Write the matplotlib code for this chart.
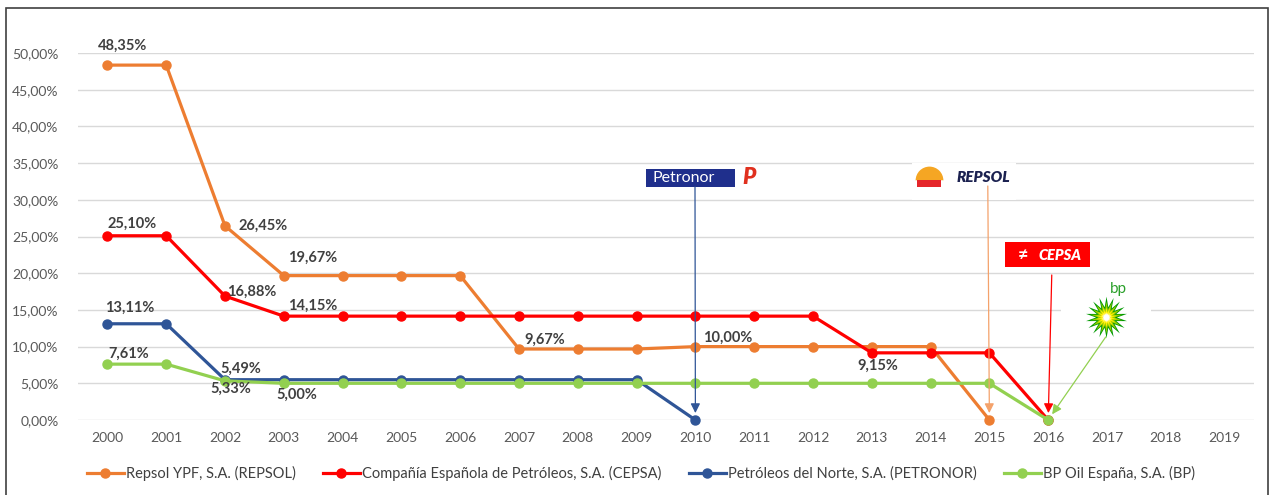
import matplotlib.pyplot as plt
import matplotlib.patches as mpatches
import numpy as np

# data
years = list(range(2000, 2020))
repsol = [48.35, 48.35, 26.45, 19.67, 19.67, 19.67, 19.67, 9.67, 9.67, 9.67,
          10.00, 10.00, 10.00, 10.00, 10.00, 0.0]
cepsa = [25.10, 25.10, 16.88, 14.15, 14.15, 14.15, 14.15, 14.15, 14.15, 14.15,
         14.15, 14.15, 14.15, 9.15, 9.15, 9.15, 0.0]
petronor = [13.11, 13.11, 5.49, 5.49, 5.49, 5.49, 5.49, 5.49, 5.49, 5.49, 0.0]
bp = [7.61, 7.61, 5.33, 5.00, 5.00, 5.00, 5.00, 5.00, 5.00, 5.00,
      5.00, 5.00, 5.00, 5.00, 5.00, 5.00, 0.0]

names = ['Repsol YPF, S.A. (REPSOL)',
         'Compañía Española de Petróleos, S.A. (CEPSA)',
         'Petróleos del Norte, S.A. (PETRONOR)',
         'BP Oil España, S.A. (BP)']
colors = ['#ED7D31', '#FF0000', '#2F5597', '#92D050']
series = [repsol, cepsa, petronor, bp]

# (series index, year index, label, dx px, dy px)
labels = [(0, 0, '48,35%', 15, 19), (1, 0, '25,10%', 25, 12),
          (0, 2, '26,45%', 38, 0), (0, 3, '19,67%', 29, 18),
          (1, 2, '16,88%', 27, 4), (1, 3, '14,15%', 29, 10),
          (2, 0, '13,11%', 22, 16), (3, 0, '7,61%', 21, 10),
          (2, 2, '5,49%', 16, 11), (3, 2, '5,33%', 6, -8),
          (3, 3, '5,00%', 13, -11), (0, 7, '9,67%', 26, 9),
          (0, 10, '10,00%', 32, 9), (1, 13, '9,15%', 6, -13)]

plt.rcParams['font.family'] = ['Lato', 'DejaVu Sans']

fig = plt.figure(figsize=(12.74, 4.95), dpi=100)
ax = fig.add_axes([78 / 1274, 75 / 495, 1176 / 1274, 367 / 495])

# outer border
fig.patches.append(mpatches.Rectangle((6 / 1274, -0.05), 1262 / 1274, 1 - 8 / 495 + 0.05,
                                      transform=fig.transFigure, fill=False,
                                      edgecolor='#404040', lw=1.2))

for vals, c, n in zip(series, colors, names):
    ax.plot(years[:len(vals)], vals, color=c, lw=2.3, marker='o', ms=6.5,
            label=n, clip_on=False, zorder=3)

for si, yi, txt, dx, dy in labels:
    ax.annotate(txt, (years[yi], series[si][yi]), xytext=(dx, dy),
                textcoords='offset pixels', ha='center', va='center',
                fontsize=10.5, fontweight='bold', color='#404040', zorder=5)

ax.set_xlim(1999.5, 2019.5)
ax.set_ylim(0, 50)
ax.set_xticks(years)
ax.set_yticks(np.arange(0, 51, 5))
ax.set_yticklabels([f'{v:.2f}%'.replace('.', ',') for v in np.arange(0, 51, 5)])
ax.grid(axis='y', color='#D9D9D9', lw=1)
ax.set_axisbelow(True)
for s in ax.spines.values():
    s.set_visible(False)
ax.tick_params(length=0, labelsize=10, labelcolor='#595959')
ax.tick_params(axis='y', pad=14)
ax.tick_params(axis='x', pad=9)

# logos drawn as simple shapes / text
def yr(px):
    return 2000 + (px - 107) / 58.84

def pc(py):
    return (420 - py) / 7.34

# Petronor
ax.add_patch(mpatches.Rectangle((yr(646), pc(187)), yr(735) - yr(646), pc(169) - pc(187),
                                facecolor='#1F2F8C', edgecolor='none', zorder=6, clip_on=False))
ax.text(yr(684), pc(178), 'Petronor', color='white', fontsize=11.5, ha='center',
        va='center', zorder=7)
ax.text(yr(749), pc(178), 'P', color='#E0301E', fontsize=16, fontweight='heavy',
        style='italic', ha='center', va='center', zorder=7)

# Repsol
ax.add_patch(mpatches.Rectangle((yr(912), pc(200)), yr(1016) - yr(912), pc(163) - pc(200),
                                facecolor='white', edgecolor='none', zorder=2, clip_on=False))
ax.plot(yr(929), pc(180), marker='o', ms=20, fillstyle='top', color='#F5A623',
        markerfacecoloralt='white', markeredgewidth=0, zorder=6)
ax.add_patch(mpatches.Rectangle((yr(917), pc(187)), yr(941) - yr(917), pc(180) - pc(187),
                                facecolor='#E5262A', edgecolor='none', zorder=7))
ax.text(yr(984), pc(178), 'REPSOL', color='#1B2150', fontsize=11, fontweight='heavy',
        style='italic', ha='center', va='center', zorder=7)

# Cepsa
ax.add_patch(mpatches.Rectangle((yr(1005), pc(267)), yr(1090) - yr(1005), pc(242) - pc(267),
                                facecolor='#FF0000', edgecolor='none', zorder=6))
ax.text(yr(1023), pc(255), '≠', color='white', fontsize=13, fontweight='bold',
        ha='center', va='center', zorder=7)
ax.text(yr(1060), pc(255), 'CEPSA', color='white', fontsize=10.5, fontweight='heavy',
        style='italic', ha='center', va='center', zorder=7)

# BP
ax.add_patch(mpatches.Rectangle((yr(1061), pc(325)), yr(1151) - yr(1061), pc(295) - pc(325),
                                facecolor='white', edgecolor='none', zorder=2))
for ms, fc in [(30, '#009900'), (23, '#99CC00'), (15, '#FFEE00'), (8, 'white')]:
    ax.plot(yr(1106), pc(317), marker=(18, 1, 0), ms=ms, color=fc,
            markeredgewidth=0, zorder=7)
ax.text(yr(1119), pc(289), 'bp', color='#2BA02B', fontsize=11, ha='center',
        va='center', zorder=7)

# arrows from logos to the last points
arrows = [(695, 187, 2010, 0, '#2F5597'), (988, 186, 2015, 0, '#F4A26B'),
          (1052, 275, 2016, 0, '#FF0000'), (1106, 337, 2016, 0, '#92D050')]
for px, py, x1, y1, c in arrows:
    ax.annotate('', xy=(x1, y1), xytext=(yr(px), pc(py)),
                arrowprops=dict(arrowstyle='-|>', color=c, lw=0.9,
                                mutation_scale=14, shrinkA=0, shrinkB=5),
                zorder=8)

fig.legend(loc='center', bbox_to_anchor=(0.503, 0.044), ncol=4, frameon=False,
           fontsize=10.5, handlelength=2.55, columnspacing=1.85, handletextpad=0.15,
           labelcolor='#404040')

fig.savefig('out.png', dpi=100)
